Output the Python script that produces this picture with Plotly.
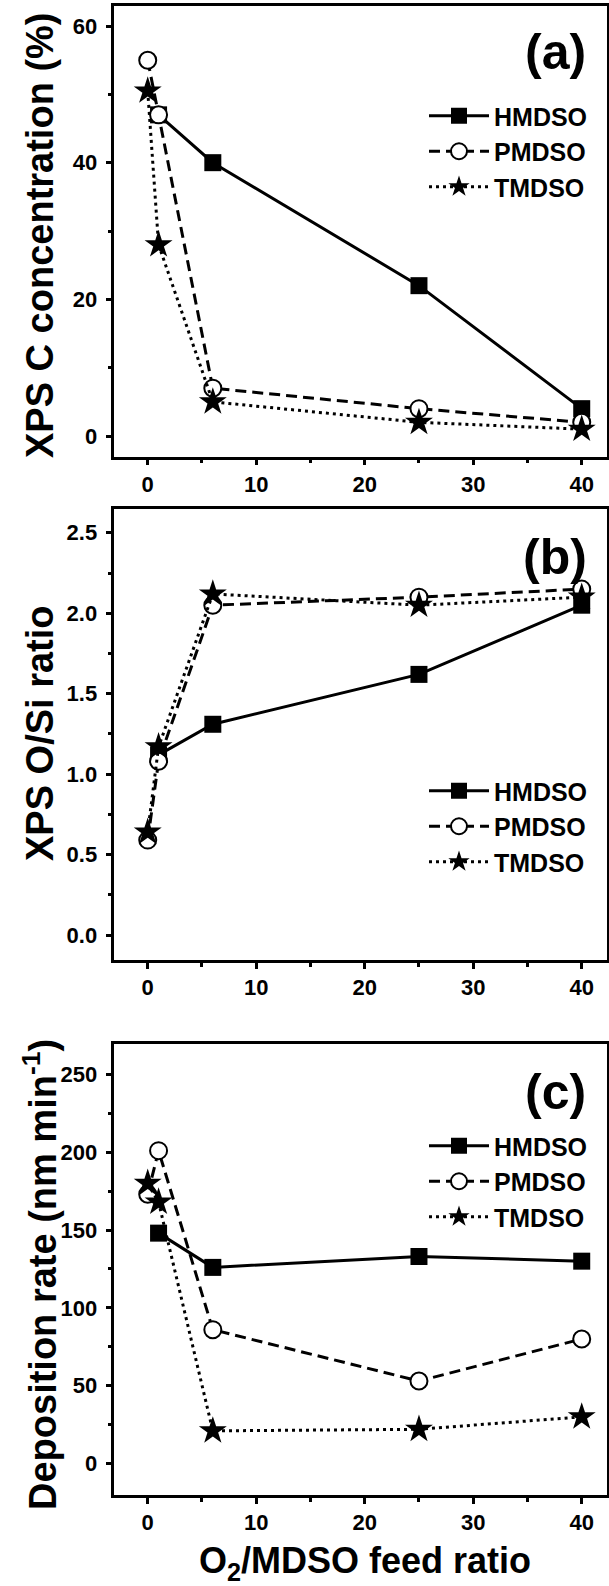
import plotly.graph_objects as go

W, H = 609, 1586

# ---- data ----
x_all = [0, 1, 6, 25, 40]
x_h = [1, 6, 25, 40]

c_hmdso = [47, 40, 22, 4]
c_pmdso = [55, 47, 7, 4, 2]
c_tmdso = [50.5, 28, 5, 2, 1]

os_hmdso = [1.12, 1.31, 1.62, 2.05]
os_pmdso = [0.59, 1.08, 2.05, 2.10, 2.15]
os_tmdso = [0.64, 1.17, 2.12, 2.05, 2.10]

dr_hmdso = [148, 126, 133, 130]
dr_pmdso = [173, 201, 86, 53, 80]
dr_tmdso = [180, 168, 21, 22, 30]

series_names = ["HMDSO", "PMDSO", "TMDSO"]
panel_labels = ["(a)", "(b)", "(c)"]
y_titles = ["XPS C concentration (%)", "XPS O/Si ratio", "Deposition rate (nm min<sup>-1</sup>)"]
x_title = "O<sub>2</sub>/MDSO feed ratio"

FONT = "Liberation Sans"

def px_y(p):
    return 1 - p / H

def px_x(p):
    return p / W

fig = go.Figure()

panels = [
    (c_hmdso, c_pmdso, c_tmdso),
    (os_hmdso, os_pmdso, os_tmdso),
    (dr_hmdso, dr_pmdso, dr_tmdso),
]

for i, (h, p, t) in enumerate(panels):
    k = i + 1
    xa = "x" if k == 1 else f"x{k}"
    ya = "y" if k == 1 else f"y{k}"
    lg = "legend" if k == 1 else f"legend{k}"
    fig.add_trace(go.Scatter(
        x=x_h, y=h, mode="lines+markers", name=series_names[0],
        xaxis=xa, yaxis=ya, legend=lg, cliponaxis=False,
        line=dict(color="black", width=3),
        marker=dict(symbol="square", size=17, color="black"),
    ))
    fig.add_trace(go.Scatter(
        x=x_all, y=p, mode="lines+markers", name=series_names[1],
        xaxis=xa, yaxis=ya, legend=lg, cliponaxis=False,
        line=dict(color="black", width=3, dash="11px,6px"),
        marker=dict(symbol="circle", size=17, color="white",
                    line=dict(color="black", width=2)),
    ))
    fig.add_trace(go.Scatter(
        x=x_all, y=t, mode="lines+markers", name=series_names[2],
        xaxis=xa, yaxis=ya, legend=lg, cliponaxis=False,
        line=dict(color="black", width=3, dash="3px,4px"),
        marker=dict(symbol="star", size=21, color="black"),
    ))

xdom = [px_x(114.3), px_x(607)]
xr = [-3.08, 42.33]

ydoms = [
    [px_y(456.5), px_y(6)],
    [px_y(960), px_y(509.3)],
    [px_y(1495), px_y(1044.3)],
]
yranges = [[-3.0, 62.93], [-0.155, 2.646], [-20.2, 269.3]]
ydticks = [20, 0.5, 50]
yticks_fmt = ["", ".1f", ""]

axis_common = dict(
    showline=True, linecolor="black", linewidth=2.5, mirror=True,
    ticks="outside", ticklen=6, tickwidth=2.5, tickcolor="black",
    showgrid=False, zeroline=False,
    tickfont=dict(family=FONT, size=22, color="black", weight="bold"),
    automargin=False,
)

layout = dict(
    width=W, height=H,
    margin=dict(l=0, r=0, t=0, b=0),
    paper_bgcolor="white", plot_bgcolor="white",
    showlegend=True,
)

legend_tops = [93, 768, 1123]
for i in range(3):
    k = i + 1
    xn = "xaxis" if k == 1 else f"xaxis{k}"
    yn = "yaxis" if k == 1 else f"yaxis{k}"
    ya = "y" if k == 1 else f"y{k}"
    xa = "x" if k == 1 else f"x{k}"
    layout[xn] = dict(
        domain=xdom, range=xr, anchor=ya, dtick=10, tick0=0,
        minor=dict(dtick=5, ticks="outside", ticklen=4, tickwidth=2.5, tickcolor="black"),
        **axis_common,
    )
    layout[yn] = dict(
        domain=ydoms[i], range=yranges[i], anchor=xa, dtick=ydticks[i], tick0=0,
        tickformat=yticks_fmt[i], ticklabelstandoff=4,
        minor=dict(dtick=ydticks[i] / 2, ticks="outside", ticklen=4, tickwidth=2.5, tickcolor="black"),
        **axis_common,
    )
    ln = "legend" if k == 1 else f"legend{k}"
    layout[ln] = dict(
        x=px_x(424), y=px_y(legend_tops[i]), xanchor="left", yanchor="top",
        bgcolor="rgba(0,0,0,0)", borderwidth=0,
        font=dict(family=FONT, size=25, color="black", weight="bold"),
        itemwidth=60, tracegroupgap=0,
    )

fig.update_layout(**layout)

annots = []
ytitle_centers = [235, 733, 1275]
for i in range(3):
    annots.append(dict(
        text=y_titles[i], xref="paper", yref="paper",
        x=px_x(40), y=px_y(ytitle_centers[i]), xanchor="center", yanchor="middle",
        textangle=-90, showarrow=False,
        font=dict(family=FONT, size=38, color="black", weight="bold"),
    ))
label_centers = [52, 557, 1092]
for i in range(3):
    annots.append(dict(
        text=panel_labels[i], xref="paper", yref="paper",
        x=px_x(555), y=px_y(label_centers[i]), xanchor="center", yanchor="middle",
        showarrow=False,
        font=dict(family=FONT, size=50, color="black", weight="bold"),
    ))
annots.append(dict(
    text=x_title, xref="paper", yref="paper",
    x=px_x(365), y=px_y(1563), xanchor="center", yanchor="middle",
    showarrow=False,
    font=dict(family=FONT, size=36, color="black", weight="bold"),
))
fig.update_layout(annotations=annots)

fig.write_html(
    "out.html",
    config={"displayModeBar": False},
    post_script="document.body.style.margin='0';document.body.style.overflow='hidden';",
)
